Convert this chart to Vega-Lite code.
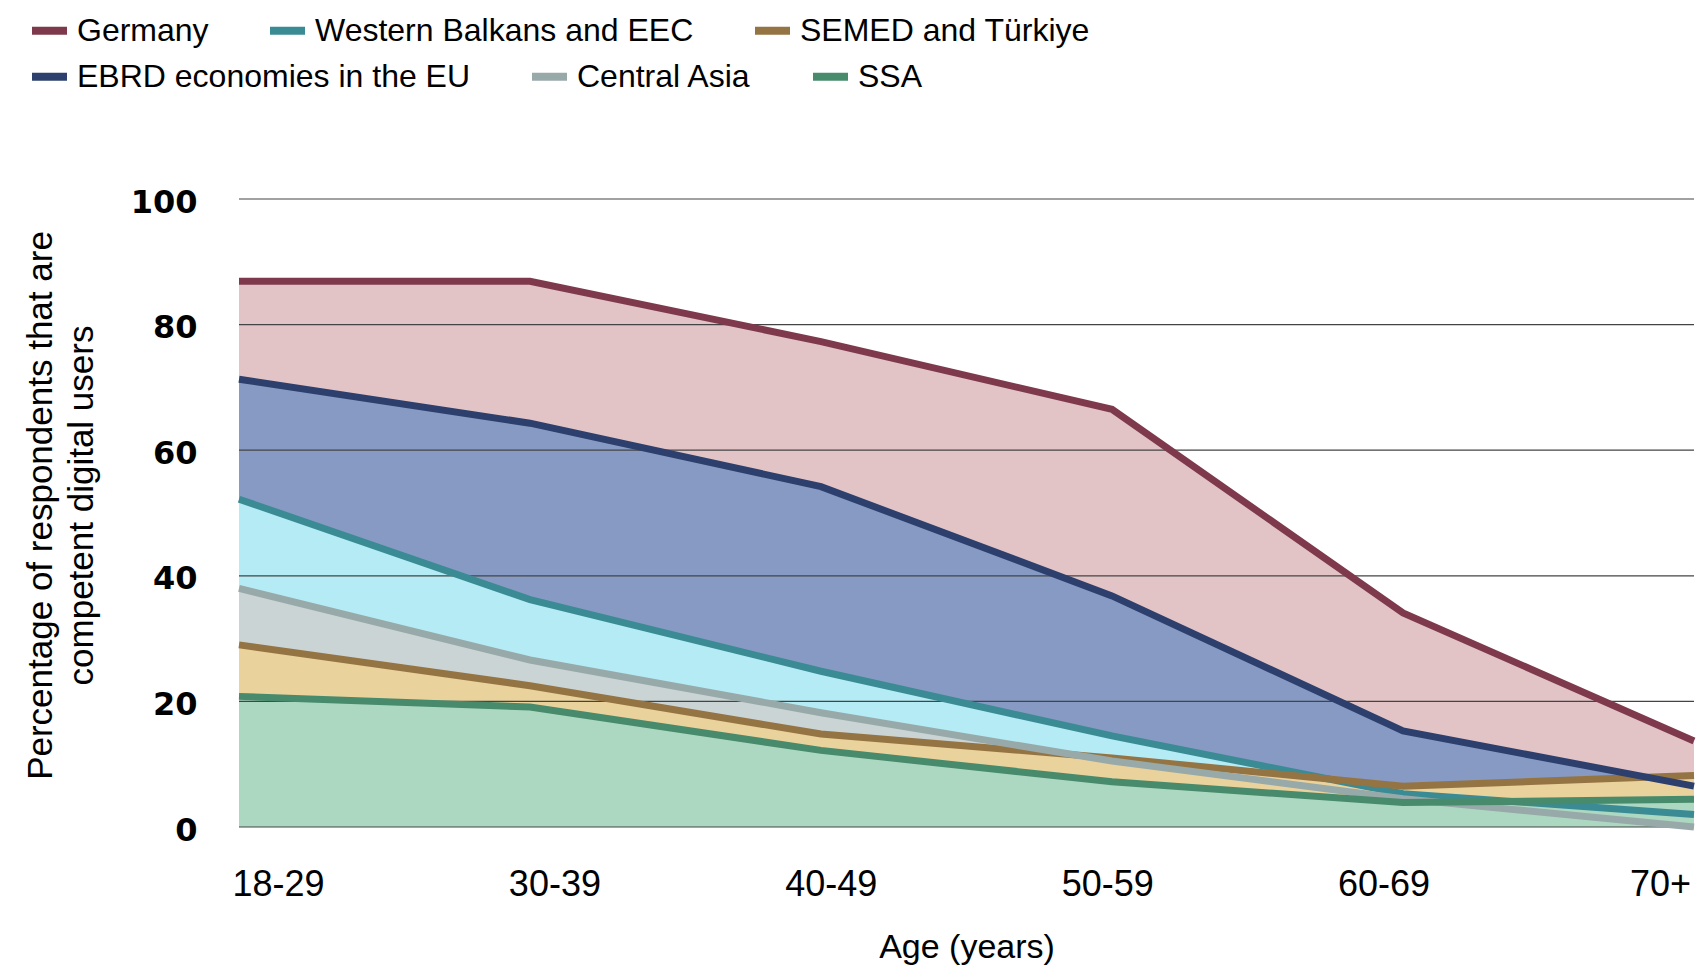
{
  "$schema": "https://vega.github.io/schema/vega-lite/v6.json",
  "width": 1455,
  "height": 628,
  "autosize": {"type": "none"},
  "padding": {"left": 239, "top": 199, "right": 2, "bottom": 138},
  "background": "white",
  "config": {
    "view": {"stroke": null},
    "font": "Liberation Sans",
    "legend": {
      "title": null,
      "orient": "none",
      "direction": "horizontal",
      "columnPadding": 45,
      "symbolType": "stroke",
      "symbolSize": 1225,
      "symbolStrokeWidth": 8,
      "labelFont": "Liberation Sans",
      "labelFontSize": 32,
      "labelColor": "#000000",
      "labelOffset": 6,
      "labelLimit": 600
    }
  },
  "datasets": {
    "skills": [
      {"age": "18-29", "region": "Germany", "value": 86.9},
      {"age": "30-39", "region": "Germany", "value": 86.9},
      {"age": "40-49", "region": "Germany", "value": 77.3},
      {"age": "50-59", "region": "Germany", "value": 66.5},
      {"age": "60-69", "region": "Germany", "value": 34.1},
      {"age": "70+", "region": "Germany", "value": 13.7},
      {"age": "18-29", "region": "EBRD economies in the EU", "value": 71.3},
      {"age": "30-39", "region": "EBRD economies in the EU", "value": 64.3},
      {"age": "40-49", "region": "EBRD economies in the EU", "value": 54.2},
      {"age": "50-59", "region": "EBRD economies in the EU", "value": 36.8},
      {"age": "60-69", "region": "EBRD economies in the EU", "value": 15.3},
      {"age": "70+", "region": "EBRD economies in the EU", "value": 6.5},
      {"age": "18-29", "region": "Western Balkans and EEC", "value": 52.2},
      {"age": "30-39", "region": "Western Balkans and EEC", "value": 36.2},
      {"age": "40-49", "region": "Western Balkans and EEC", "value": 24.8},
      {"age": "50-59", "region": "Western Balkans and EEC", "value": 14.5},
      {"age": "60-69", "region": "Western Balkans and EEC", "value": 5.3},
      {"age": "70+", "region": "Western Balkans and EEC", "value": 2.0},
      {"age": "18-29", "region": "Central Asia", "value": 38.0},
      {"age": "30-39", "region": "Central Asia", "value": 26.6},
      {"age": "40-49", "region": "Central Asia", "value": 18.2},
      {"age": "50-59", "region": "Central Asia", "value": 10.5},
      {"age": "60-69", "region": "Central Asia", "value": 4.5},
      {"age": "70+", "region": "Central Asia", "value": 0.0},
      {"age": "18-29", "region": "SEMED and Türkiye", "value": 29.0},
      {"age": "30-39", "region": "SEMED and Türkiye", "value": 22.5},
      {"age": "40-49", "region": "SEMED and Türkiye", "value": 14.8},
      {"age": "50-59", "region": "SEMED and Türkiye", "value": 11.0},
      {"age": "60-69", "region": "SEMED and Türkiye", "value": 6.5},
      {"age": "70+", "region": "SEMED and Türkiye", "value": 8.2},
      {"age": "18-29", "region": "SSA", "value": 20.8},
      {"age": "30-39", "region": "SSA", "value": 19.1},
      {"age": "40-49", "region": "SSA", "value": 12.2},
      {"age": "50-59", "region": "SSA", "value": 7.2},
      {"age": "60-69", "region": "SSA", "value": 3.9},
      {"age": "70+", "region": "SSA", "value": 4.4}
    ],
    "gridValues": [
      {"level": 0}, {"level": 20}, {"level": 40}, {"level": 60}, {"level": 80}, {"level": 100}
    ]
  },
  "resolve": {"scale": {"stroke": "independent"}, "legend": {"stroke": "independent"}},
  "layer": [
    {
      "data": {"name": "skills"},
      "mark": {"type": "area", "opacity": 1, "interpolate": "linear"},
      "encoding": {
        "x": {
          "field": "age",
          "type": "ordinal",
          "sort": ["18-29", "30-39", "40-49", "50-59", "60-69", "70+"],
          "scale": {"type": "point", "padding": 0},
          "axis": {
            "title": "Age (years)",
            "titleFont": "Liberation Sans",
            "titleFontSize": 34,
            "titleFontWeight": "normal",
            "titleColor": "#000000",
            "titlePadding": 28,
            "labelFont": "Liberation Sans",
            "labelFontSize": 36,
            "labelColor": "#000000",
            "labelPadding": 40,
            "labelAngle": 0,
            "labelFlush": false,
            "ticks": false,
            "domain": false,
            "grid": false,
            "encoding": {
              "labels": {
                "dx": {"value": {"expr": "39 - 14.6 * indexof(['18-29','30-39','40-49','50-59','60-69','70+'], datum.value)"}}
              }
            }
          }
        },
        "y": {
          "field": "value",
          "type": "quantitative",
          "stack": null,
          "scale": {"domain": [0, 100], "nice": false},
          "axis": {
            "title": ["Percentage of respondents that are", "competent digital users"],
            "titleFont": "Liberation Sans",
            "titleFontSize": 35,
            "titleFontWeight": "normal",
            "titleColor": "#000000",
            "titleLineHeight": 41,
            "titleAngle": 270,
            "titleBaseline": "middle",
            "titleAlign": "center",
            "titleX": -199,
            "titleY": 306,
            "values": [0, 20, 40, 60, 80, 100],
            "labelFont": "DejaVu Sans",
            "labelFontWeight": "bold",
            "labelFontSize": 32,
            "labelColor": "#000000",
            "labelPadding": 42,
            "labelOffset": 3,
            "ticks": false,
            "domain": false,
            "grid": false
          }
        },
        "fill": {
          "field": "region",
          "type": "nominal",
          "scale": {
            "domain": ["Germany", "EBRD economies in the EU", "Western Balkans and EEC", "Central Asia", "SEMED and Türkiye", "SSA"],
            "range": ["#E2C4C7", "#879AC3", "#B5EBF5", "#CBD4D5", "#EAD29C", "#ACD8C1"]
          },
          "legend": null
        }
      }
    },
    {
      "data": {"name": "gridValues"},
      "mark": {"type": "rule", "color": "#444444", "strokeWidth": 1.2},
      "encoding": {
        "y": {"field": "level", "type": "quantitative"}
      }
    },
    {
      "data": {"name": "skills"},
      "transform": [
        {"filter": {"field": "region", "oneOf": ["Germany", "Western Balkans and EEC", "SEMED and Türkiye"]}}
      ],
      "mark": {"type": "line", "strokeWidth": 7, "strokeCap": "butt", "strokeJoin": "miter"},
      "encoding": {
        "x": {
          "field": "age",
          "type": "ordinal",
          "sort": ["18-29", "30-39", "40-49", "50-59", "60-69", "70+"]
        },
        "y": {"field": "value", "type": "quantitative"},
        "stroke": {
          "field": "region",
          "type": "nominal",
          "scale": {
            "domain": ["Germany", "Western Balkans and EEC", "SEMED and Türkiye"],
            "range": ["#7E3A4C", "#3A8B94", "#957443"]
          },
          "legend": {"legendX": -211, "legendY": -190}
        }
      }
    },
    {
      "data": {"name": "skills"},
      "transform": [
        {"filter": {"field": "region", "oneOf": ["EBRD economies in the EU", "Central Asia", "SSA"]}}
      ],
      "mark": {"type": "line", "strokeWidth": 7, "strokeCap": "butt", "strokeJoin": "miter"},
      "encoding": {
        "x": {
          "field": "age",
          "type": "ordinal",
          "sort": ["18-29", "30-39", "40-49", "50-59", "60-69", "70+"]
        },
        "y": {"field": "value", "type": "quantitative"},
        "stroke": {
          "field": "region",
          "type": "nominal",
          "scale": {
            "domain": ["EBRD economies in the EU", "Central Asia", "SSA"],
            "range": ["#2C3F6D", "#98A9AA", "#488A6C"]
          },
          "legend": {"legendX": -211, "legendY": -144}
        }
      }
    }
  ]
}
